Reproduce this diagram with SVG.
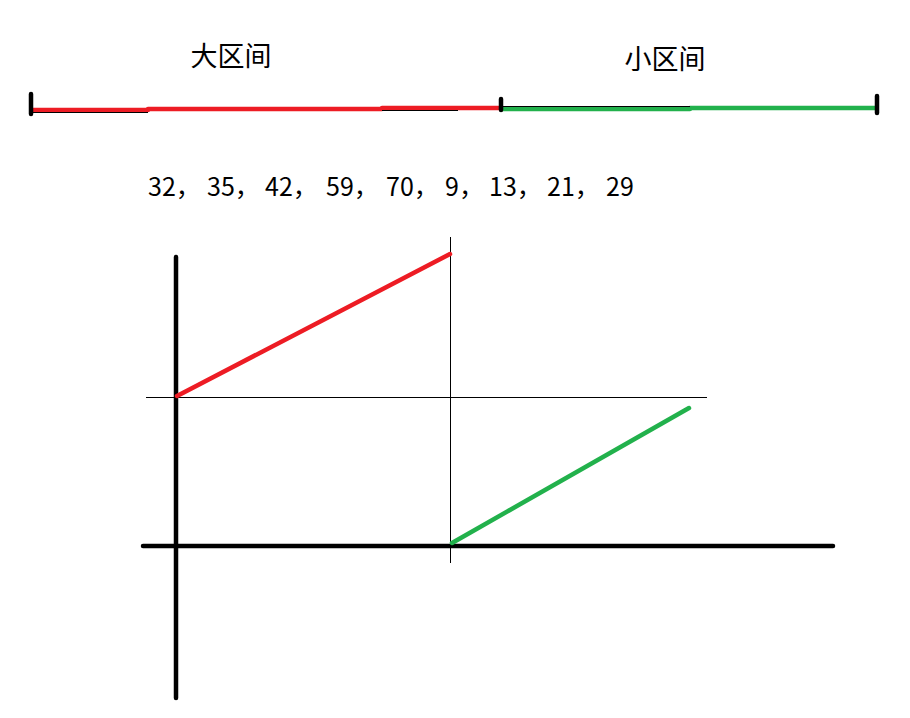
<svg xmlns="http://www.w3.org/2000/svg" width="910" height="718" viewBox="0 0 910 718">
<style>
.t{font-family:"Noto Sans CJK SC","Microsoft YaHei",sans-serif;fill:#000}
.thick{stroke:#000;stroke-width:4.5;stroke-linecap:round;fill:none}
.thin{stroke:#000;stroke-width:1;fill:none}
.red{stroke:#ed1c24;stroke-width:4.5;stroke-linecap:round;fill:none}
.green{stroke:#22b14c;stroke-width:4.5;stroke-linecap:round;fill:none}
</style>
<rect width="910" height="718" fill="#fff"/>
<g id="number-line">
  <path class="red" d="M32 110 L148 110 M148 109 L382 109 M382 108 L501 108" stroke-linecap="butt"/>
  <path class="green" d="M501 109 L690 109 M690 108 L876 108" stroke-linecap="butt"/>
  <line class="thin" x1="32" y1="112.5" x2="148" y2="112.5"/>
  <line class="thin" x1="382" y1="110.5" x2="458" y2="110.5"/>
  <line class="thin" x1="501" y1="106.5" x2="690" y2="106.5"/>
  <line class="thick" x1="31" y1="94" x2="31" y2="114" stroke-width="3.5"/>
  <line class="thick" x1="501" y1="99" x2="501" y2="110" stroke-width="2.5"/>
  <line class="thick" x1="877" y1="96" x2="877" y2="113" stroke-width="3.5"/>
</g>
<g id="label-big"><text class="t" x="231" y="66" font-size="27" text-anchor="middle">大区间</text></g>
<g id="label-small"><text class="t" x="665" y="69" font-size="27" text-anchor="middle">小区间</text></g>
<g id="sequence">
  <text class="t" y="196" font-size="25"><tspan x="148">32，</tspan><tspan x="207">35，</tspan><tspan x="265">42，</tspan><tspan x="326">59，</tspan><tspan x="386">70，</tspan><tspan x="445">9，</tspan><tspan x="489">13，</tspan><tspan x="547">21，</tspan><tspan x="606">29</tspan></text>
</g>
<g id="chart">
  <line class="thin" x1="146" y1="397.5" x2="707" y2="397.5"/>
  <line class="thin" x1="450.5" y1="237" x2="450.5" y2="563"/>
  <line class="thick" x1="176" y1="257" x2="176" y2="698"/>
  <line class="thick" x1="143" y1="546" x2="833" y2="546"/>
  <line class="red" x1="177" y1="396" x2="450" y2="254"/>
  <line class="green" x1="452" y1="543" x2="689" y2="408"/>
</g>
</svg>
